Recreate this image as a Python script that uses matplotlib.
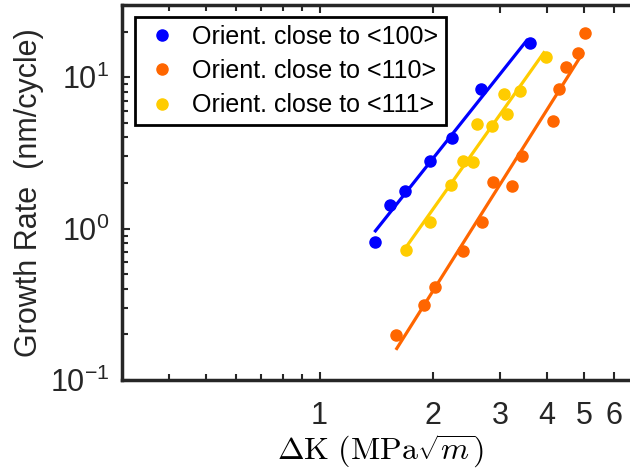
import numpy as np
import matplotlib
matplotlib.use("Agg")
import matplotlib.pyplot as plt
from matplotlib.ticker import LogLocator, FixedLocator, FixedFormatter, NullFormatter

# Data (Delta K in MPa*sqrt(m), growth rate in nm/cycle)
labels = ["Orient. close to <100>", "Orient. close to <110>", "Orient. close to <111>"]
colors = ["#0000FF", "#FF6600", "#FFCC00"]

dk_100 = [1.40, 1.54, 1.68, 1.96, 2.24, 2.67, 3.60]
rate_100 = [0.81, 1.44, 1.77, 2.79, 3.98, 8.4, 16.8]
fit_dk_100 = [1.405, 3.53]

dk_110 = [1.59, 1.89, 2.02, 2.40, 2.69, 2.88, 3.22, 3.43, 4.15, 4.31, 4.48, 4.83, 5.05]
rate_110 = [0.199, 0.314, 0.41, 0.71, 1.10, 2.03, 1.91, 3.01, 5.14, 8.33, 11.6, 14.4, 19.6]
fit_dk_110 = [1.60, 4.96]

dk_111 = [1.69, 1.96, 2.22, 2.40, 2.55, 2.61, 2.85, 3.07, 3.13, 3.39, 3.97]
rate_111 = [0.72, 1.11, 1.93, 2.79, 2.75, 4.88, 4.76, 7.72, 5.69, 8.12, 13.6]
fit_dk_111 = [1.67, 3.92]

x_ticks = [1, 2, 3, 4, 5, 6]

plt.rcParams["font.family"] = ["Liberation Sans", "DejaVu Sans"]
plt.rcParams["mathtext.fontset"] = "custom"
plt.rcParams["mathtext.rm"] = "Liberation Sans"
plt.rcParams["mathtext.it"] = "Liberation Sans:italic"

fig = plt.figure(figsize=(6.3, 4.76), dpi=100)
ax = fig.add_axes([122 / 630, 96 / 476, 517 / 630, 375 / 476])

series = [(dk_100, rate_100, fit_dk_100), (dk_110, rate_110, fit_dk_110), (dk_111, rate_111, fit_dk_111)]
for (dk, rate, fit_dk), label, c in zip(series, labels, colors):
    ax.plot(dk, rate, "o", color=c, ms=8, label=label, zorder=3)
    # power-law fit (straight line in log-log)
    p = np.polyfit(np.log10(dk), np.log10(rate), 1)
    xf = np.array(fit_dk)
    ax.plot(xf, 10 ** np.polyval(p, np.log10(xf)), "-", color=c, lw=2.3, zorder=2)

ax.set_xscale("log")
ax.set_yscale("log")
ax.set_xlim(0.3, 7)
ax.set_ylim(0.1, 30)

ax.xaxis.set_major_locator(FixedLocator(x_ticks))
ax.xaxis.set_major_formatter(FixedFormatter([str(t) for t in x_ticks]))
ax.xaxis.set_minor_locator(FixedLocator([0.4, 0.5, 0.6, 0.7, 0.8, 0.9]))
ax.xaxis.set_minor_formatter(NullFormatter())
ax.yaxis.set_major_locator(LogLocator(base=10))
ax.yaxis.set_minor_locator(LogLocator(base=10, subs=np.arange(2, 10)))
ax.yaxis.set_minor_formatter(NullFormatter())

ax.tick_params(which="both", direction="in", top=True, right=True, colors="#262626",
               labelsize=22, labelcolor="#262626", width=1.5)
ax.tick_params(which="major", length=6, pad=9)
ax.tick_params(axis="x", which="major", pad=15)
ax.tick_params(which="minor", length=4)
for s in ax.spines.values():
    s.set_linewidth(2.5)
    s.set_color("#262626")

ax.set_ylabel("Growth Rate  (nm/cycle)", fontsize=22, color="#262626", labelpad=4)
ax.set_xlabel(r"$\Delta\mathrm{K}\ (\mathrm{MPa}\sqrt{m})$", fontsize=23,
              math_fontfamily="cm", labelpad=1)

leg = ax.legend(loc="upper left", bbox_to_anchor=(0.025, 0.968), fontsize=18,
                fancybox=False, edgecolor="black", framealpha=1, handletextpad=0.4,
                borderpad=0.3, labelspacing=0.42, handlelength=1.6, borderaxespad=0)
leg.get_frame().set_linewidth(2)

fig.savefig("out.png", dpi=100)
